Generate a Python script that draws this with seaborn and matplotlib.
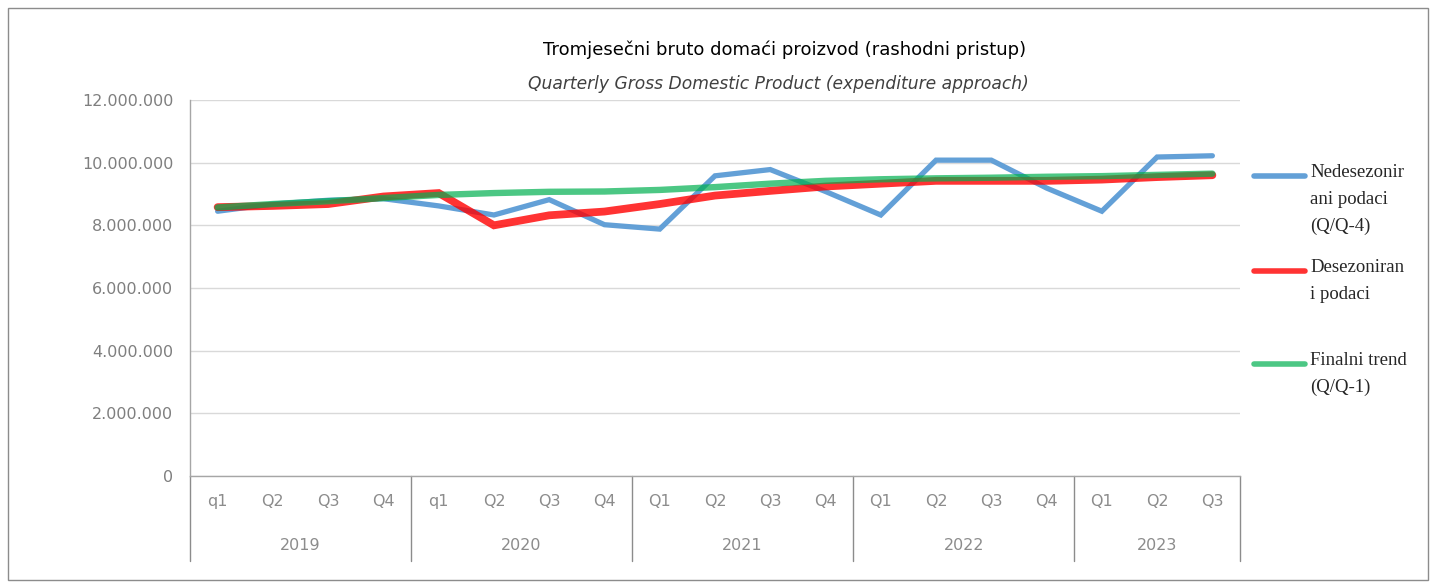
import matplotlib
matplotlib.use("Agg")
import pandas as pd
import numpy as np
import matplotlib.pyplot as plt
import matplotlib.transforms as mtransforms
from matplotlib.lines import Line2D
from matplotlib.patches import Rectangle
import seaborn as sns

# Quarterly GDP data
quarters = ['q1', 'Q2', 'Q3', 'Q4', 'q1', 'Q2', 'Q3', 'Q4', 'Q1', 'Q2', 'Q3', 'Q4',
            'Q1', 'Q2', 'Q3', 'Q4', 'Q1', 'Q2', 'Q3']
years = ['2019', '2020', '2021', '2022', '2023']
year_len = [4, 4, 4, 4, 3]

unadjusted = [8450000, 8680000, 8800000, 8850000, 8620000, 8330000, 8820000, 8020000,
              7880000, 9580000, 9780000, 9080000, 8330000, 10080000, 10080000, 9190000,
              8450000, 10180000, 10220000]
seas_adjusted = [8580000, 8620000, 8680000, 8920000, 9030000, 8000000, 8320000, 8440000,
                 8680000, 8950000, 9100000, 9240000, 9330000, 9420000, 9420000, 9420000,
                 9460000, 9540000, 9600000]
trend = [8570000, 8680000, 8770000, 8870000, 8970000, 9030000, 9070000, 9080000,
         9130000, 9220000, 9330000, 9420000, 9470000, 9500000, 9520000, 9550000,
         9570000, 9610000, 9650000]

series_names = ['Nedesezonir\nani podaci\n(Q/Q-4)', 'Desezoniran\ni podaci', 'Finalni trend\n(Q/Q-1)']
colors = ['#5B9BD5', '#FF0000', '#00B050']
alphas = [0.95, 0.8, 0.7]
widths = [3.8, 5.6, 4.6]

df = pd.DataFrame({
    'idx': list(range(len(quarters))) * 3,
    'value': unadjusted + seas_adjusted + trend,
    'series': [series_names[0]] * len(quarters) + [series_names[1]] * len(quarters)
              + [series_names[2]] * len(quarters),
})

sns.set_style("white")
plt.rcParams['font.family'] = ['Liberation Sans Narrow', 'DejaVu Sans']

fig = plt.figure(figsize=(14.4, 5.88), dpi=100)
ax = fig.add_axes([190 / 1440, 112 / 588, 1050 / 1440, 376 / 588])

sns.lineplot(data=df, x='idx', y='value', hue='series', size='series',
             hue_order=series_names, size_order=series_names,
             palette=dict(zip(series_names, colors)),
             sizes=dict(zip(series_names, widths)),
             legend=False, ax=ax)
for ln, a in zip(ax.lines, alphas):
    ln.set_alpha(a)
    ln.set_solid_capstyle('round')
    ln.set_solid_joinstyle('miter')

ax.set_xlim(-0.5, len(quarters) - 0.5)
ax.set_ylim(0, 12000000)
ax.set_yticks(np.arange(0, 12000001, 2000000))
ax.set_yticklabels([f"{int(v):,}".replace(',', '.') for v in ax.get_yticks()])
ax.yaxis.grid(True, color='#d9d9d9', linewidth=1)
ax.set_xlabel('')
ax.set_ylabel('')
ax.tick_params(axis='y', length=0, pad=12, labelsize=11.5, labelcolor='#7f7f7f')
ax.set_xticks(range(len(quarters)))
ax.set_xticklabels(quarters)
ax.tick_params(axis='x', length=0, pad=13, labelsize=11.5, labelcolor='#8c8c8c')

for side in ['top', 'right']:
    ax.spines[side].set_visible(False)
for side in ['left', 'bottom']:
    ax.spines[side].set_color('#a6a6a6')
    ax.spines[side].set_linewidth(1)

# multi-level category axis
trans = mtransforms.blended_transform_factory(ax.transData, ax.transAxes)
bounds = np.concatenate([[0], np.cumsum(year_len)]) - 0.5
for b in bounds:
    ax.plot([b, b], [0, -0.225], color='#8c8c8c', linewidth=1, transform=trans, clip_on=False)
for i, y in enumerate(years):
    ax.text((bounds[i] + bounds[i + 1]) / 2, -0.184, y, transform=trans, ha='center',
            va='center', fontsize=11.5, color='#8c8c8c')

# titles
fig.text(785 / 1440, 1 - 50 / 588, 'Tromjesečni bruto domaći proizvod (rashodni pristup)',
         ha='center', va='center', fontsize=13, color='black')
fig.text(778 / 1440, 1 - 84 / 588, 'Quarterly Gross Domestic Product (expenditure approach)',
         ha='center', va='center', fontsize=12.3, color='#404040', style='italic')

# legend
leg_y = [176, 271, 364]
for name, col, a, yy in zip(series_names, colors, alphas, leg_y):
    fig.add_artist(Line2D([1254 / 1440, 1305 / 1440], [1 - yy / 588] * 2, color=col,
                          linewidth=4, solid_capstyle='round', alpha=a))
    fig.text(1310 / 1440, 1 - (yy - 12) / 588, name, ha='left', va='top', fontsize=13.5,
             family=['Liberation Serif', 'DejaVu Serif'], color='#262626', linespacing=1.75)

# outer frame
fig.add_artist(Rectangle((8 / 1440, 8 / 588), 1420 / 1440, 572 / 588, fill=False,
                         edgecolor='#8c8c8c', linewidth=1, transform=fig.transFigure))

fig.savefig('out.png', dpi=100)
